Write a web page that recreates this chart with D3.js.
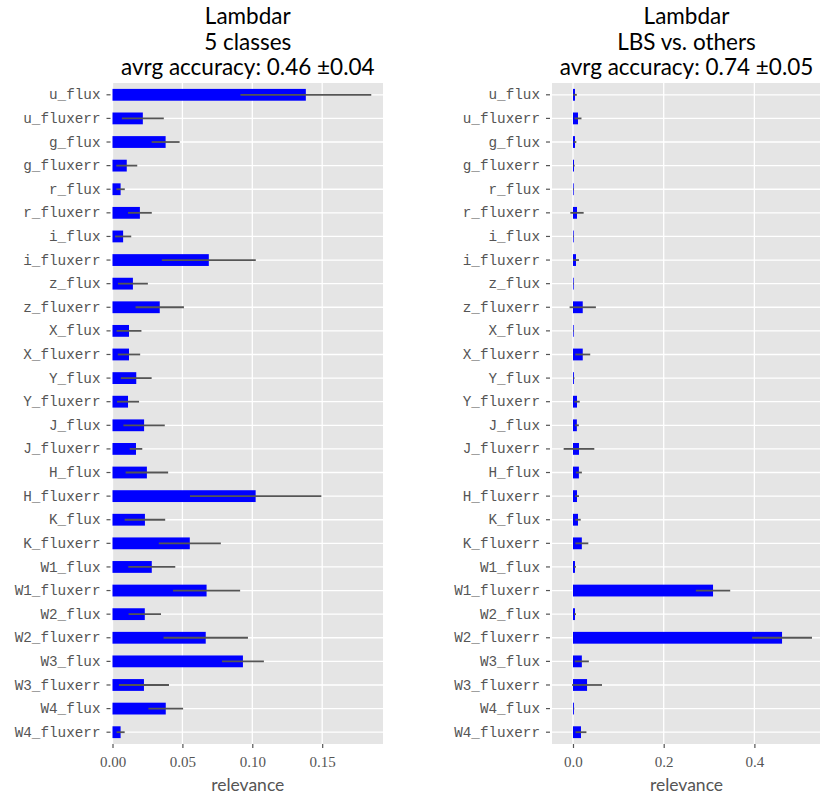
<!DOCTYPE html>
<meta charset="utf-8">
<script src="https://d3js.org/d3.v7.min.js"></script>
<style>
    body { margin: 0; background: #fff; }
</style>
<body>
<div id="my_dataviz"></div>
<script>
    // feature names, top to bottom
    var features = ["u_flux", "u_fluxerr", "g_flux", "g_fluxerr", "r_flux", "r_fluxerr",
        "i_flux", "i_fluxerr", "z_flux", "z_fluxerr", "X_flux", "X_fluxerr", "Y_flux",
        "Y_fluxerr", "J_flux", "J_fluxerr", "H_flux", "H_fluxerr", "K_flux", "K_fluxerr",
        "W1_flux", "W1_fluxerr", "W2_flux", "W2_fluxerr", "W3_flux", "W3_fluxerr",
        "W4_flux", "W4_fluxerr"];

    // left panel: 5 classes
    var fiveClassRelevance = [0.1383, 0.0217, 0.0380, 0.0102, 0.0058, 0.0196,
        0.0076, 0.0689, 0.0146, 0.0338, 0.0118, 0.0118, 0.0170,
        0.0111, 0.0226, 0.0168, 0.0246, 0.1024, 0.0232, 0.0553,
        0.0281, 0.0673, 0.0231, 0.0667, 0.0933, 0.0225,
        0.0381, 0.0058];
    var fiveClassError = [0.0468, 0.0150, 0.0100, 0.0075, 0.0030, 0.0085,
        0.0058, 0.0336, 0.0107, 0.0173, 0.0089, 0.0080, 0.0110,
        0.0079, 0.0148, 0.0045, 0.0152, 0.0470, 0.0145, 0.0222,
        0.0168, 0.0240, 0.0116, 0.0302, 0.0150, 0.0179,
        0.0124, 0.0029];

    // right panel: LBS vs. others
    var lbsRelevance = [0.0044, 0.0110, 0.0044, 0.0022, 0.0015, 0.0088,
        0.0015, 0.0066, 0.0015, 0.0215, 0.0015, 0.0215, 0.0020,
        0.0088, 0.0085, 0.0132, 0.0130, 0.0088, 0.0110, 0.0195,
        0.0044, 0.3088, 0.0044, 0.4610, 0.0195, 0.0310,
        0.0020, 0.0176];
    var lbsError = [0.0040, 0.0077, 0.0030, 0.0015, 0.0008, 0.0147,
        0.0008, 0.0066, 0.0008, 0.0290, 0.0008, 0.0165, 0.0012,
        0.0060, 0.0044, 0.0338, 0.0066, 0.0044, 0.0060, 0.0143,
        0.0020, 0.0379, 0.0022, 0.0660, 0.0155, 0.0330,
        0.0008, 0.0120];

    var leftTitle = ["Lambdar", "5 classes", "avrg accuracy: 0.46 \u00b10.04"];
    var rightTitle = ["Lambdar", "LBS vs. others", "avrg accuracy: 0.74 \u00b10.05"];
    var leftTicks = [0, 0.05, 0.10, 0.15];
    var rightTicks = [0, 0.2, 0.4];

    var width = 820, height = 798;
    var plotTop = 83, plotBottom = 744;

    var svg = d3.select("#my_dataviz")
        .append("svg")
        .attr("width", width)
        .attr("height", height);

    function drawPanel(x0, x1, domain, ticks, fmt, values, errors, titleLines) {
        var x = d3.scaleLinear().domain(domain).range([x0, x1]);
        var y = d3.scaleBand().domain(features).range([plotTop, plotBottom])
            .paddingInner(0.5).paddingOuter(0.25);
        var cy = function(d) { return y(d) + y.bandwidth() / 2; };

        var g = svg.append("g");

        // grey background
        g.append("rect")
            .attr("x", x0).attr("y", plotTop)
            .attr("width", x1 - x0).attr("height", plotBottom - plotTop)
            .attr("fill", "#e5e5e5");

        // grid
        g.selectAll(".vgrid").data(ticks).enter().append("line")
            .attr("x1", function(d) { return x(d); })
            .attr("x2", function(d) { return x(d); })
            .attr("y1", plotTop).attr("y2", plotBottom)
            .attr("stroke", "#fff").attr("stroke-width", 1.3);
        g.selectAll(".hgrid").data(features).enter().append("line")
            .attr("x1", x0).attr("x2", x1)
            .attr("y1", cy).attr("y2", cy)
            .attr("stroke", "#fff").attr("stroke-width", 1.3);

        // bars
        g.selectAll(".bar").data(features).enter().append("rect")
            .attr("x", function(d, i) { return Math.min(x(0), x(values[i])); })
            .attr("y", function(d) { return y(d); })
            .attr("width", function(d, i) { return Math.abs(x(values[i]) - x(0)); })
            .attr("height", y.bandwidth())
            .attr("fill", "#0000ff");

        // error bars
        g.selectAll(".err").data(features).enter().append("line")
            .attr("x1", function(d, i) { return x(values[i] - errors[i]); })
            .attr("x2", function(d, i) { return x(values[i] + errors[i]); })
            .attr("y1", cy).attr("y2", cy)
            .attr("stroke", "#555").attr("stroke-width", 1.8);

        // y axis
        var ya = g.append("g")
            .attr("transform", "translate(" + (x0 - 2) + ",0)")
            .call(d3.axisLeft(y).tickSize(4).tickPadding(6));
        ya.select(".domain").remove();
        ya.selectAll("line").attr("stroke", "#555").attr("stroke-width", 1.2);
        ya.selectAll("text")
            .attr("fill", "#555")
            .style("font-family", "'Liberation Mono', monospace")
            .style("font-size", "14.3px");

        // x axis
        var xa = g.append("g")
            .attr("transform", "translate(0," + plotBottom + ")")
            .call(d3.axisBottom(x).tickValues(ticks).tickFormat(d3.format(fmt))
                .tickSize(4).tickPadding(8));
        xa.select(".domain").remove();
        xa.selectAll("line").attr("stroke", "#555").attr("stroke-width", 1.2);
        xa.selectAll("text")
            .attr("fill", "#555")
            .style("font-family", "'Liberation Serif', serif")
            .style("font-size", "15px");

        var mid = (x0 + x1) / 2;
        g.append("text")
            .attr("x", mid).attr("y", 791)
            .attr("text-anchor", "middle")
            .attr("fill", "#555")
            .style("font-family", "Lato, sans-serif")
            .style("font-size", "17.5px")
            .text("relevance");

        g.selectAll(".title").data(titleLines).enter().append("text")
            .attr("x", mid)
            .attr("y", function(d, i) { return 24 + i * 25.5; })
            .attr("text-anchor", "middle")
            .attr("fill", "#000")
            .style("font-family", "Lato, sans-serif")
            .style("font-size", "22.5px")
            .text(function(d) { return d; });
    }

    drawPanel(112.5, 383, [0, 0.1935], leftTicks, ".2f",
        fiveClassRelevance, fiveClassError, leftTitle);
    drawPanel(552, 821, [-0.0463, 0.5469], rightTicks, ".1f",
        lbsRelevance, lbsError, rightTitle);
</script>
</body>
